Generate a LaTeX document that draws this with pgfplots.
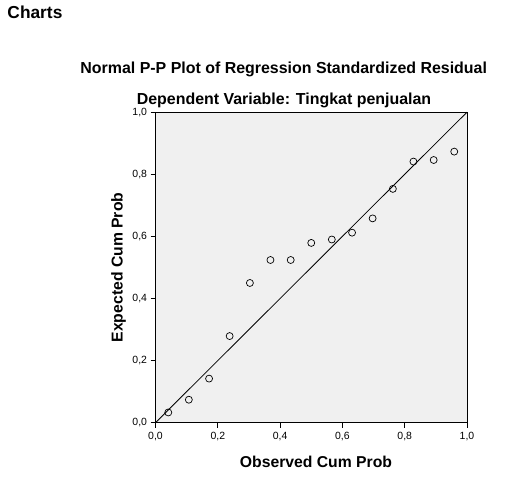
\documentclass[border=0pt]{standalone}
\usepackage{pgfplots}
\pgfplotsset{compat=1.18}
\usepackage{fontspec}
\setmainfont{Liberation Sans}
\definecolor{bgc}{HTML}{F0F0F0}
\begin{document}
\begin{tikzpicture}[x=1bp,y=1bp]
\useasboundingbox (0,0) rectangle (506,480);
\node[anchor=base west,font=\bfseries\fontsize{17.4}{17.4}\selectfont,inner sep=0] at (7.3,461.7) {Charts};
\node[anchor=base,font=\bfseries\fontsize{16}{16}\selectfont,inner sep=0] at (283.7,406) {Normal P-P Plot of Regression Standardized Residual};
\node[anchor=base,font=\bfseries\fontsize{16}{16}\selectfont,inner sep=0] at (284,375) {Dependent Variable: Tingkat penjualan};
\node[anchor=base,font=\bfseries\fontsize{15.8}{15.8}\selectfont,inner sep=0] at (316,12.3) {Observed Cum Prob};
\node[anchor=base,rotate=90,font=\bfseries\fontsize{15.8}{15.8}\selectfont,inner sep=0] at (122.5,212.5) {Expected Cum Prob};
\begin{axis}[
  scale only axis,
  width=311.5bp, height=310.5bp,
  at={(155.5bp,57.3bp)}, anchor=south west,
  xmin=0, xmax=1, ymin=0, ymax=1,
  xtick={0,0.2,0.4,0.6,0.8,1},
  ytick={0,0.2,0.4,0.6,0.8,1},
  tick pos=left,
  tick align=outside,
  major tick length=5bp,
  axis background/.style={fill=bgc},
  axis line style={line width=0.75bp},
  tick style={line width=0.75bp, black},
  /pgf/number format/assume math mode=true,
  /pgf/number format/.cd, use comma, fixed, fixed zerofill, precision=1,
  /pgfplots/.cd,
  tick label style={font=\fontsize{10.5}{10.5}\selectfont},
  xticklabel style={yshift=-1bp},
  clip=false,
]
\addplot[black, line width=0.8bp] coordinates {(0,0) (1,1)};
\addplot[only marks, mark=o, mark size=3.5bp, black, mark options={line width=0.7bp}] coordinates {
(0.041,0.033) (0.107,0.074) (0.172,0.142) (0.238,0.279) (0.303,0.450)
(0.369,0.524) (0.434,0.524) (0.500,0.579) (0.566,0.590) (0.631,0.612)
(0.697,0.658) (0.762,0.753) (0.828,0.841) (0.893,0.846) (0.959,0.873)
};
\end{axis}
\end{tikzpicture}
\end{document}
